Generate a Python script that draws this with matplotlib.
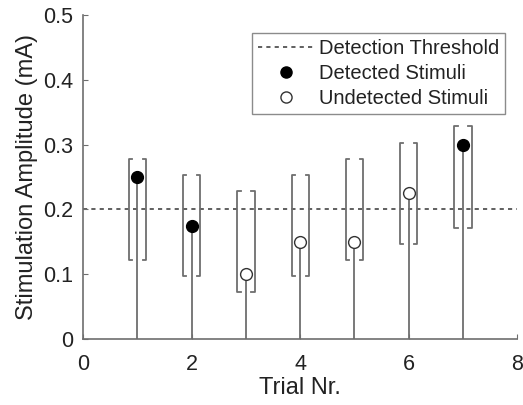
import matplotlib
matplotlib.use("Agg")
import matplotlib.pyplot as plt
import numpy as np

plt.rcParams['font.family'] = ['Liberation Sans', 'DejaVu Sans']

trials = [1, 2, 3, 4, 5, 6, 7]
amplitude = [0.25, 0.175, 0.10, 0.15, 0.15, 0.225, 0.30]
detected = [True, True, False, False, False, False, True]
range_low = [0.122, 0.097, 0.072, 0.097, 0.122, 0.147, 0.172]
range_high = [0.278, 0.253, 0.228, 0.253, 0.278, 0.303, 0.328]
threshold = 0.2

gray = '#6e6e6e'
fig = plt.figure(figsize=(5.23, 4.05), dpi=100)
ax = fig.add_axes([0.159, 0.163, 0.83, 0.80])

# threshold
ax.axhline(threshold, color='#444444', ls=(0, (2.5, 2.5)), lw=1.2, label='Detection Threshold', zorder=1)

# brackets
hw = 0.16
tk = 0.06
for x, lo, hi in zip(trials, range_low, range_high):
    ax.plot([x - hw + tk, x - hw, x - hw, x - hw + tk], [hi, hi, lo, lo], color=gray, lw=1.3, zorder=2)
    ax.plot([x + hw - tk, x + hw, x + hw, x + hw - tk], [hi, hi, lo, lo], color=gray, lw=1.3, zorder=2)

# stems
for x, a in zip(trials, amplitude):
    ax.plot([x, x], [0, a], color=gray, lw=1.3, zorder=2)

t = np.array(trials); a = np.array(amplitude); d = np.array(detected)
ax.plot(t[d], a[d], 'o', color='black', ms=8.5, ls='none', label='Detected Stimuli', zorder=3)
ax.plot(t[~d], a[~d], 'o', mfc='white', mec='#333333', mew=1.0, ms=8.5, ls='none', label='Undetected Stimuli', zorder=3)

ax.set_xlim(0, 8)
ax.set_ylim(0, 0.5)
ax.set_xticks([0, 2, 4, 6, 8])
ax.set_yticks([0, 0.1, 0.2, 0.3, 0.4, 0.5])
ax.set_yticklabels(['0', '0.1', '0.2', '0.3', '0.4', '0.5'])
ax.tick_params(direction='in', length=3.5, color=gray, labelsize=15.5, labelcolor='#222222')
ax.tick_params(axis='y', pad=7)
ax.tick_params(axis='x', pad=11)
for s in ['top', 'right']:
    ax.spines[s].set_visible(False)
for s in ['left', 'bottom']:
    ax.spines[s].set_color(gray)
    ax.spines[s].set_linewidth(1.2)

ax.set_xlabel('Trial Nr.', fontsize=17, color='#222222', labelpad=1)
ax.set_ylabel('Stimulation Amplitude (mA)', fontsize=17, color='#222222', labelpad=4)

leg = ax.legend(loc='upper right', bbox_to_anchor=(0.972, 0.944), borderaxespad=0, fontsize=14.5,
                frameon=True, fancybox=False, edgecolor=gray, handlelength=2.7, borderpad=0.3,
                labelspacing=0.3, handletextpad=0.3)
leg.get_frame().set_linewidth(1.0)
for txt in leg.get_texts():
    txt.set_color('#222222')
for h in leg.legend_handles[1:]:
    h.set_markersize(8)

fig.savefig('out.png', dpi=100)
